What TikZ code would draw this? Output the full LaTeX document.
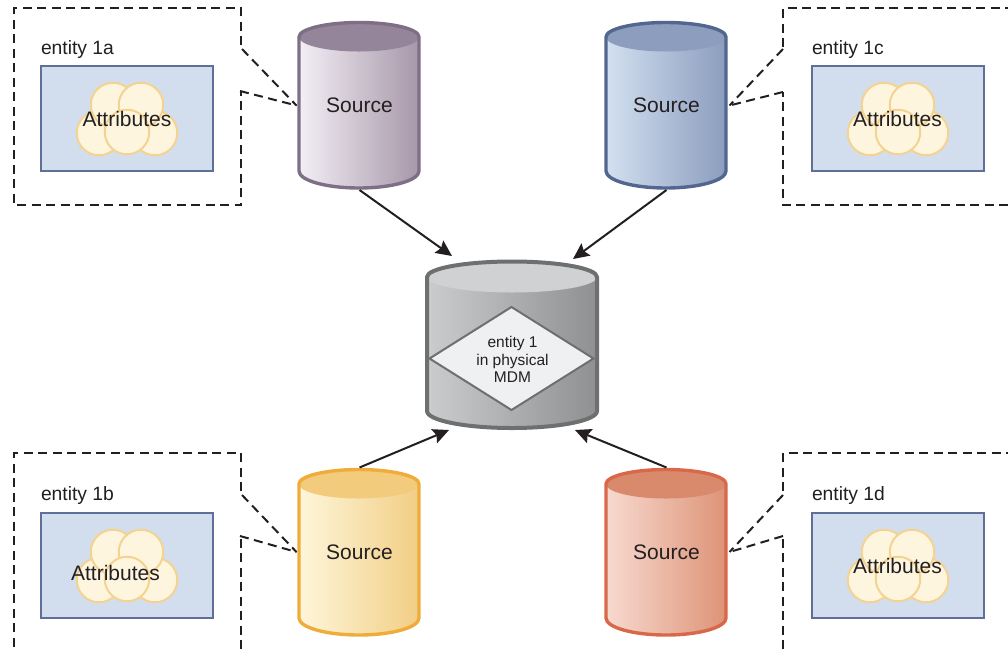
\documentclass[tikz,border=0pt]{standalone}
\usepackage{fontspec}
\setmainfont{Liberation Sans}
\usetikzlibrary{arrows.meta,shapes.geometric}
\definecolor{txt}{HTML}{231F20}
\definecolor{pl}{HTML}{F3EFF6}\definecolor{pr}{HTML}{A797A9}\definecolor{pb}{HTML}{7F6F86}\definecolor{pt}{HTML}{94859A}
\definecolor{bl}{HTML}{D3E0F0}\definecolor{br}{HTML}{8B9DBE}\definecolor{bb}{HTML}{53668F}\definecolor{bt}{HTML}{8C9DBD}
\definecolor{yl}{HTML}{FEF6DA}\definecolor{yr}{HTML}{F2CE85}\definecolor{yb}{HTML}{F0AC3A}\definecolor{yt}{HTML}{F2CB7C}
\definecolor{ol}{HTML}{F7DAD0}\definecolor{or}{HTML}{DE9377}\definecolor{ob}{HTML}{D9684A}\definecolor{ot}{HTML}{DA8A6C}
\definecolor{gl}{HTML}{CBCCCE}\definecolor{gr}{HTML}{8F9092}\definecolor{gb}{HTML}{6E6F71}\definecolor{gt}{HTML}{D0D1D3}
\definecolor{cardfill}{HTML}{D2DEED}
\definecolor{cardline}{HTML}{5F6F98}
\definecolor{cloudline}{HTML}{F4D391}
\definecolor{cloudfill}{HTML}{FEF5DF}
\definecolor{diafill}{HTML}{EFF0F2}
\tikzset{
  x=1pt,y=-1pt,
  every node/.style={text=txt,inner sep=0pt,outer sep=0pt},
  dashline/.style={draw=txt,line width=2pt,dash pattern=on 9pt off 5.5pt},
  flow/.style={draw=txt,line width=2pt,-{Stealth[length=16pt,width=15pt,inset=2.5pt]}},
  entitybody/.style={draw=cardline,fill=cardfill,line width=2pt},
  cloudpart/.style={circle,draw=cloudline,fill=cloudfill,line width=2pt,minimum size=44.5pt},
  attr/.style={font=\fontsize{21}{24}\selectfont},
  elabel/.style={font=\fontsize{19.3}{22}\selectfont,anchor=base west},
  srclabel/.style={font=\fontsize{21}{24}\selectfont,minimum width=126pt,minimum height=169pt},
}
% name, cx, side top, side bottom, half width, top ry, bottom ry, colour prefix, line width
\newcommand{\cyl}[9]{%
  \shade[left color=#8l,right color=#8r]
    (#2-#5,#3) -- (#2-#5,#4) arc[start angle=180,end angle=0,x radius=#5,y radius=#7]
    -- (#2+#5,#3) arc[start angle=0,end angle=-180,x radius=#5,y radius=#6] -- cycle;
  \fill[#8t] (#2,#3) ellipse[x radius=#5,y radius=#6];
  \draw[#8b,line width=#9pt,line join=round]
    (#2-#5,#3) -- (#2-#5,#4) arc[start angle=180,end angle=0,x radius=#5,y radius=#7]
    -- (#2+#5,#3) arc[start angle=0,end angle=-180,x radius=#5,y radius=#6] -- cycle;
}
% name suffix, rect x, rect y
\newcommand{\card}[3]{%
  \node[entitybody,anchor=north west,minimum width=172pt,minimum height=105pt] (card#1) at (#2,#3) {};
  \node[cloudpart] (cA#1) at (#2+114,#3+67) {};
  \node[cloudpart] (cB#1) at (#2+58,#3+67) {};
  \node[cloudpart] (cC#1) at (#2+72,#3+39) {};
  \node[cloudpart] (cD#1) at (#2+100,#3+39) {};
  \node[cloudpart] (cE#1) at (#2+86,#3+66) {};
}
\begin{document}
\begin{tikzpicture}
\useasboundingbox (0,0) rectangle (1008,649);
% dashed frames
\draw[dashline] (241,45) -- (241,8) -- (14,8) -- (14,205) -- (241,205) -- (241,91);
\draw[dashline] (783,47) -- (783,8) -- (1008,8);
\draw[dashline] (1008,205) -- (783,205) -- (783,92);
\draw[dashline] (241,491) -- (241,453) -- (14,453) -- (14,649);
\draw[dashline] (241,649) -- (241,536);
\draw[dashline] (783,491) -- (783,453) -- (1008,453);
\draw[dashline] (783,649) -- (783,536);
% cards
\card{a}{41}{66}
\card{b}{41}{513}
\card{c}{812}{66}
\card{d}{812}{513}
\node[attr] (attra) at (127,119) {Attributes};
\node[attr] (attrb) at (115.5,573) {Attributes};
\node[attr] (attrc) at (897.5,119) {Attributes};
\node[attr] (attrd) at (897.5,566) {Attributes};
\node[elabel] (ea) at (41,54) {entity 1a};
\node[elabel] (eb) at (41,500) {entity 1b};
\node[elabel] (ec) at (812,54) {entity 1c};
\node[elabel] (ed) at (812,500) {entity 1d};
% cylinders
\cyl{sa}{359}{37}{171}{60}{14.5}{17}{p}{3.4}
\cyl{sc}{666}{37}{171}{60}{14.5}{17}{b}{3.4}
\cyl{sb}{359}{484}{618}{60}{14.5}{17}{y}{3.4}
\cyl{sd}{666}{484}{618}{60}{14.5}{17}{o}{3.4}
\cyl{hub}{512}{277}{411}{85}{15.5}{17}{g}{4}
\node[srclabel] (sa) at (359.5,105.5) {Source};
\node[srclabel] (sc) at (666.5,105.5) {Source};
\node[srclabel] (sb) at (359.5,552) {Source};
\node[srclabel] (sd) at (666.5,552) {Source};
\node[diamond,draw=gb,fill=diafill,line width=2pt,minimum width=164pt,minimum height=103pt,aspect=1.6] (hub) at (511.5,358.5) {};
\node[align=center,font=\fontsize{15.5}{17.6}\selectfont] (hubtext) at (512.5,359.5) {entity 1\\in physical\\MDM};
% connectors
\coordinate (ia) at (452,256);
\coordinate (ic) at (573,259);
\coordinate (ib) at (449,430);
\coordinate (id) at (575,430);
\draw[flow] (sa.south) -- (ia);
\draw[flow] (sc.south) -- (ic);
\draw[flow] (sb.north) -- (ib);
\draw[flow] (sd.north) -- (id);
\coordinate (fa1) at (242,49); \coordinate (fa2) at (240,91);
\coordinate (fc1) at (783,49); \coordinate (fc2) at (783,92);
\coordinate (fb1) at (242,495); \coordinate (fb2) at (240,536);
\coordinate (fd1) at (783,495); \coordinate (fd2) at (783,536);
\draw[dashline] (fa1) -- (sa.west);
\draw[dashline] (fa2) -- (sa.west);
\draw[dashline] (fb1) -- (sb.west);
\draw[dashline] (fb2) -- (sb.west);
\draw[dashline] (fc1) -- (sc.east);
\draw[dashline] (fc2) -- (sc.east);
\draw[dashline] (fd1) -- (sd.east);
\draw[dashline] (fd2) -- (sd.east);
\end{tikzpicture}
\end{document}
